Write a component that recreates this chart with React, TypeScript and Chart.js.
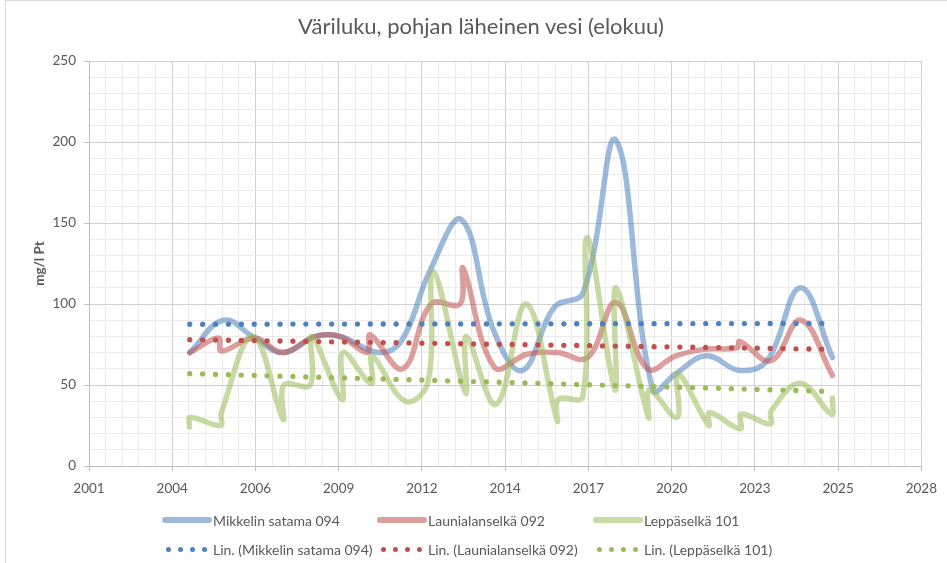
import React, { useEffect, useRef } from "react";
import { Chart, registerables } from "chart.js";

Chart.register(...registerables);

// ---------- Data (decimal years, mg/l Pt) ----------
const blueYears = [2004.61, 2005.72, 2006.75, 2007.67, 2008.75, 2009.55, 2010.85, 2011.6, 2012.5, 2013.55, 2014.6, 2015.55, 2016.6, 2017.55, 2018.63, 2019.84, 2020.6, 2021.6, 2022.7, 2023.6, 2024.7, 2025.75];
const blueValues = [70, 90, 79, 70, 80, 80, 70, 78, 120, 152, 84, 59, 98, 107, 201, 47, 57, 68, 59, 65, 110, 67];

const redYears = [2004.61, 2005.55, 2005.65, 2006.75, 2007.67, 2008.75, 2009.55, 2010.45, 2010.55, 2011.62, 2012.55, 2013.5, 2013.6, 2014.63, 2015.7, 2016.7, 2017.7, 2018.63, 2019.67, 2020.6, 2021.5, 2022.62, 2022.7, 2023.73, 2024.71, 2025.75];
const redValues = [70, 79, 71, 79, 70, 80, 80, 70, 81, 60, 100, 100, 122, 61, 69, 70, 67, 101, 60, 68, 72, 73, 77, 65, 90, 56];

const greenYears = [2004.6, 2004.63, 2005.62, 2005.65, 2006.69, 2007.68, 2007.71, 2008.57, 2008.62, 2009.62, 2009.65, 2010.58, 2010.61, 2011.7, 2012.45, 2012.62, 2013.68, 2013.71, 2014.69, 2015.68, 2016.7, 2016.73, 2017.54, 2017.68, 2018.6, 2018.63, 2019.7, 2019.73, 2020.64, 2020.67, 2021.68, 2021.71, 2022.72, 2022.75, 2023.71, 2023.74, 2024.7, 2025.72, 2025.75];
const greenValues = [24, 30, 25, 33, 80, 29, 50, 50, 80, 41, 70, 51, 68, 40, 52, 120, 45, 80, 38, 100, 28, 41, 43, 141, 47, 110, 30, 47, 30, 57, 25, 33, 23, 32, 26, 34, 51, 32, 42];

// Linear trend lines (end points)
const trendYears = [2004.61, 2025.75];
const blueTrendValues = [87.5, 88];
const redTrendValues = [78, 72];
const greenTrendValues = [57, 46];

// Axis (Excel date serials, major unit 1000 days)
const xTickLabels = ["2001", "2004", "2006", "2009", "2012", "2014", "2017", "2020", "2023", "2025", "2028"];
const yTickLabels = ["0", "50", "100", "150", "200", "250"];

const seriesNames = ["Mikkelin satama 094", "Launialanselkä 092", "Leppäselkä 101"];
const trendNames = ["Lin. (Mikkelin satama 094)", "Lin. (Launialanselkä 092)", "Lin. (Leppäselkä 101)"];

const X_MIN = 37000;
const X_MAX = 47000;
const FONT = "Lato, 'Open Sans', sans-serif";
const TEXT = "#595959";

const lineColors = ["rgba(79,129,189,0.55)", "rgba(192,80,77,0.55)", "rgba(155,187,89,0.55)"];
const dotColors = ["#4F81BD", "#C0504D", "#9BBB59"];

const EPOCH = Date.UTC(1899, 11, 30);
function toSerial(y: number): number {
  const Y = Math.floor(y);
  const s = Date.UTC(Y, 0, 1);
  const e = Date.UTC(Y + 1, 0, 1);
  return (s + (y - Y) * (e - s) - EPOCH) / 86400000;
}
function pts(xs: number[], ys: number[]) {
  return xs.map((x, i) => ({ x: toSerial(x), y: ys[i] }));
}

export default function App() {
  const ref = useRef<HTMLCanvasElement | null>(null);

  useEffect(() => {
    if (!ref.current) return;
    document.body.style.margin = "0";
    const seriesLine = (label: string, data: any, color: string, order: number) => ({
      label,
      data,
      borderColor: color,
      backgroundColor: color,
      borderWidth: 5.5,
      tension: 0.4,
      pointRadius: 0,
      borderJoinStyle: "round" as const,
      borderCapStyle: "round" as const,
      fill: false,
      order,
    });
    const trendLine = (label: string, data: any, color: string, order: number) => ({
      label,
      data,
      borderColor: color,
      backgroundColor: color,
      borderWidth: 5.3,
      borderDash: [0, 12.9],
      borderCapStyle: "round" as const,
      tension: 0,
      pointRadius: 0,
      fill: false,
      order,
    });
    const chart = new Chart(ref.current, {
      type: "line",
      data: {
        datasets: [
          seriesLine(seriesNames[0], pts(blueYears, blueValues), lineColors[0], 6),
          seriesLine(seriesNames[1], pts(redYears, redValues), lineColors[1], 5),
          seriesLine(seriesNames[2], pts(greenYears, greenValues), lineColors[2], 4),
          trendLine(trendNames[0], pts(trendYears, blueTrendValues), dotColors[0], 3),
          trendLine(trendNames[1], pts(trendYears, redTrendValues), dotColors[1], 2),
          trendLine(trendNames[2], pts(trendYears, greenTrendValues), dotColors[2], 1),
        ],
      },
      options: {
        responsive: false,
        animation: false,
        events: [],
        layout: { padding: { left: 0, right: 23, top: 61, bottom: 63 } },
        plugins: {
          legend: { display: false },
          title: { display: false },
          tooltip: { enabled: false },
        },
        scales: {
          x: {
            type: "linear",
            min: X_MIN,
            max: X_MAX,
            ticks: {
              stepSize: 200,
              autoSkip: false,
              maxRotation: 0,
              minRotation: 0,
              color: TEXT,
              padding: 10,
              font: { family: FONT, size: 13.5 },
              callback: (v: any) => {
                const n = Math.round(Number(v));
                return n % 1000 === 0 ? xTickLabels[(n - X_MIN) / 1000] : "";
              },
            },
            grid: {
              color: (ctx: any) => (ctx.tick && Math.round(ctx.tick.value) % 1000 === 0 ? "#d0d0d0" : "#ebebeb"),
              tickColor: (ctx: any) => (ctx.tick && Math.round(ctx.tick.value) % 1000 === 0 ? "#bfbfbf" : "rgba(0,0,0,0)"),
              tickLength: 5,
              lineWidth: 1,
            },
            border: { color: "#bfbfbf", width: 1 },
            afterFit: (s: any) => {
              s.height = 34;
            },
          },
          y: {
            type: "linear",
            min: 0,
            max: 250,
            ticks: {
              stepSize: 10,
              autoSkip: false,
              color: TEXT,
              padding: 8,
              font: { family: FONT, size: 13.5 },
              callback: (v: any) => {
                const n = Math.round(Number(v));
                return n % 50 === 0 ? yTickLabels[n / 50] : "";
              },
            },
            grid: {
              color: (ctx: any) => (ctx.tick && Math.round(ctx.tick.value) % 50 === 0 ? "#d0d0d0" : "#ebebeb"),
              tickColor: (ctx: any) => (ctx.tick && Math.round(ctx.tick.value) % 50 === 0 ? "#bfbfbf" : "rgba(0,0,0,0)"),
              tickLength: 5,
              lineWidth: 1,
            },
            border: { color: "#bfbfbf", width: 1 },
            title: {
              display: true,
              text: "mg/l Pt",
              color: TEXT,
              font: { family: FONT, size: 13.5, weight: "bold" },
              padding: { top: 32, bottom: 0 },
            },
            afterFit: (s: any) => {
              s.width = 89;
            },
          },
        },
      },
    } as any);
    return () => chart.destroy();
  }, []);

  const cols = [162, 377, 593];

  return (
    <div style={{ position: "fixed", left: 0, top: 0, width: 947, height: 563, background: "#fff", overflow: "hidden", fontFamily: FONT }}>
      <div style={{ position: "absolute", left: 5, top: 0, width: 1000, height: 700, border: "1px solid #d9d9d9" }} />
      <canvas ref={ref} width={947} height={563} style={{ position: "absolute", left: 0, top: 0, width: 947, height: 563 }} />
      <div style={{ position: "absolute", left: 481, top: 12, transform: "translateX(-50%)", whiteSpace: "nowrap", fontSize: 22, lineHeight: "28px", color: TEXT }}>
        Väriluku, pohjan läheinen vesi (elokuu)
      </div>
      {seriesNames.map((name, i) => (
        <div key={name} style={{ position: "absolute", left: cols[i], top: 510, height: 20, display: "flex", alignItems: "center", whiteSpace: "nowrap", fontSize: 14, color: TEXT }}>
          <span style={{ display: "inline-block", width: 50, height: 5.5, borderRadius: 3, background: lineColors[i] }} />
          <span style={{ marginLeft: 1 }}>{name}</span>
        </div>
      ))}
      {trendNames.map((name, i) => (
        <div key={name} style={{ position: "absolute", left: cols[i] + 4, top: 539, height: 20, display: "flex", alignItems: "center", whiteSpace: "nowrap", fontSize: 14, color: TEXT }}>
          {[0, 1, 2, 3].map((d) => (
            <span key={d} style={{ display: "inline-block", width: 5, height: 5, borderRadius: "50%", background: dotColors[i], marginRight: d < 3 ? 7 : 0 }} />
          ))}
          <span style={{ marginLeft: 6 }}>{name}</span>
        </div>
      ))}
    </div>
  );
}
